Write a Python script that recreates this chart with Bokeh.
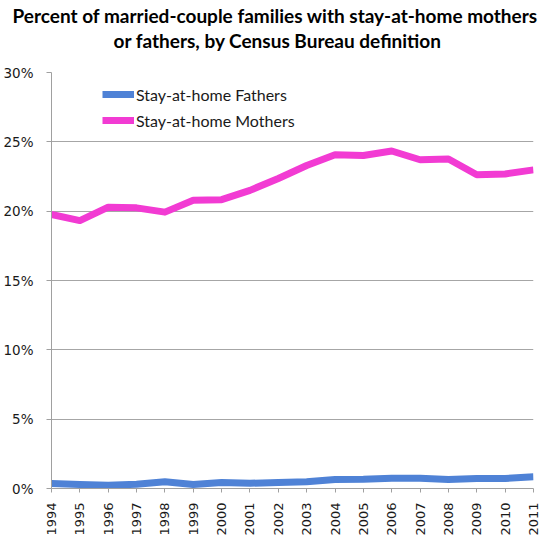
from bokeh.plotting import figure
from bokeh.models import Legend, LegendItem, Title, FixedTicker, PrintfTickFormatter
from bokeh.embed import file_html
from bokeh.resources import INLINE
from math import pi

years = list(range(1994, 2012))
fathers = [0.36, 0.29, 0.24, 0.31, 0.48, 0.29, 0.43, 0.38, 0.43, 0.48,
           0.65, 0.67, 0.74, 0.74, 0.65, 0.72, 0.72, 0.84]
mothers = [19.76, 19.32, 20.29, 20.24, 19.93, 20.78, 20.83, 21.5, 22.36, 23.29,
           24.07, 24.02, 24.34, 23.71, 23.76, 22.63, 22.68, 22.98]
y_ticks = [0, 5, 10, 15, 20, 25, 30]
title_lines = ["Percent of married-couple families with stay-at-home mothers",
               "or fathers, by Census Bureau definition"]

p = figure(width=549, height=550, output_backend="svg", toolbar_location=None,
           x_range=(1994, 2011), y_range=(0, 30))
p.min_border_left = 48
p.min_border_right = 16
p.min_border_top = 72
p.min_border_bottom = 62
p.outline_line_color = None
p.background_fill_color = "white"

# lines
blue = p.line(years, fathers, line_width=7, color="#4F82D6", line_join="round")
pink = p.line(years, mothers, line_width=7, color="#F23BD3", line_join="round")

# axes
p.xaxis.ticker = FixedTicker(ticks=years)
p.xaxis.major_label_orientation = pi / 2
p.xaxis.major_label_text_font = "DejaVu Sans"
p.xaxis.major_label_text_font_size = "13px"
p.xaxis.major_label_text_color = "#1a1a1a"
p.xaxis.major_label_standoff = 10
p.xaxis.major_tick_out = 4
p.xaxis.major_tick_in = 0
p.xaxis.minor_tick_line_color = None
p.xaxis.axis_line_color = "#A0A0A0"
p.xaxis.major_tick_line_color = "#A0A0A0"

p.yaxis.ticker = FixedTicker(ticks=y_ticks)
p.yaxis.formatter = PrintfTickFormatter(format="%d%%")
p.yaxis.major_label_text_font = "DejaVu Sans"
p.yaxis.major_label_text_font_size = "13.5px"
p.yaxis.major_label_text_color = "#1a1a1a"
p.yaxis.major_label_standoff = 13
p.yaxis.major_tick_out = 5
p.yaxis.major_tick_in = 0
p.yaxis.minor_tick_line_color = None
p.yaxis.axis_line_color = "#A0A0A0"
p.yaxis.major_tick_line_color = "#A0A0A0"

p.xgrid.grid_line_color = None
p.ygrid.grid_line_color = "#A6A6A6"
p.ygrid.ticker = FixedTicker(ticks=y_ticks)

# legend
legend = Legend(items=[LegendItem(label="Stay-at-home Fathers", renderers=[blue]),
                       LegendItem(label="Stay-at-home Mothers", renderers=[pink])],
                location=(51, 358), border_line_color=None, background_fill_alpha=0,
                padding=0, margin=0, spacing=6, glyph_width=32, glyph_height=20,
                label_height=20, label_standoff=2,
                label_text_font="Lato", label_text_font_size="16px",
                label_text_color="#1a1a1a")
p.add_layout(legend)

# title: spacer nearest the plot, then the two lines
p.add_layout(Title(text=" ", text_font_size="1px", standoff=18), "above")
for line, off, so in [(title_lines[1], 62, 0), (title_lines[0], -39, 0)]:
    p.add_layout(Title(text=line, align="left", offset=off, standoff=so,
                       text_font="Lato", text_font_style="bold",
                       text_font_size="19px", text_color="black"), "above")

open("out.html", "w").write(file_html(p, INLINE))
